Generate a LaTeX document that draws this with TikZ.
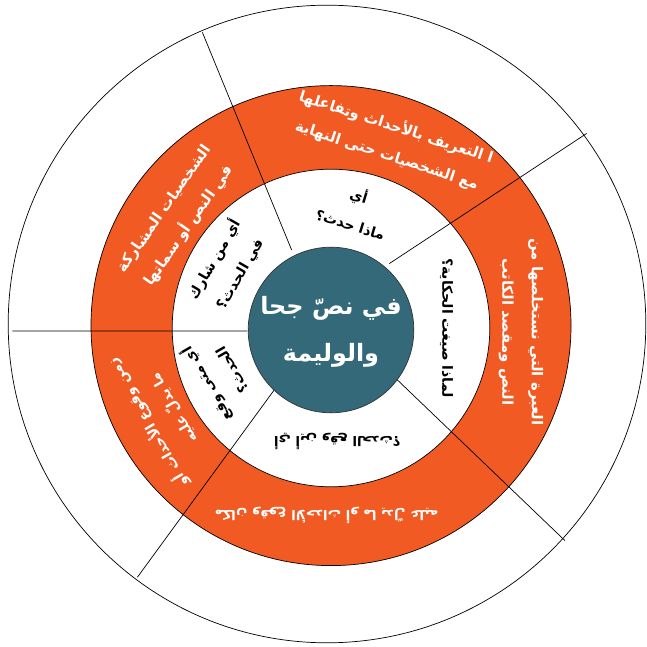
\documentclass[tikz,border=0pt]{standalone}
\usepackage{fontspec}
\usepackage{xcolor}
\newfontfamily\arabicfont[Script=Arabic]{DejaVu Sans}
\TeXXeTstate=1
\newcommand{\artxt}[1]{\beginR #1\endR}
\definecolor{ringorange}{RGB}{241,90,34}
\definecolor{hubteal}{RGB}{51,105,121}

\begin{document}
\begin{tikzpicture}[
  spoke/.style={draw=black, line width=0.5pt},
  qlabel/.style={font=\arabicfont\bfseries\fontsize{10}{21}\selectfont, align=center, inner sep=0pt},
  alabel/.style={font=\arabicfont\bfseries\fontsize{10.6}{21}\selectfont, align=center, inner sep=0pt, text=white},
  hublabel/.style={font=\arabicfont\bfseries\fontsize{17}{33}\selectfont, align=center, inner sep=0pt, text=white}
]
\useasboundingbox (-8.275,-8.075) rectangle (7.9,8.1);
\fill[white] (-8.275,-8.075) rectangle (7.9,8.1);

% rings
\draw[line width=0.5pt] (-0.1,0) circle (7.97); %outer
\filldraw[fill=ringorange, line width=0.5pt] (0,-0.04) circle (6.0); %orange ring
\filldraw[fill=white, line width=0.5pt] (0,-0.1) circle (3.97); %inner white

% dividing lines
\foreach \a/\b in {181.25/184.8, 113.8/118, 36.7/46, -42.8/-40, 232.6/229.1}
  \draw[spoke] (\a:7.97) -- (\b:2.1);

% hub
\filldraw[fill=hubteal, draw=black!80, line width=0.5pt] (0,-0.15) circle (2.07);
\node[hublabel] (hub) at (0,-0.2) {\artxt{في نصّ جحا}\\\artxt{والوليمة}};

% inner ring: questions
\node[qlabel, rotate=-17] (what) at (0.6,2.87) {\artxt{أي}\\\artxt{ماذا حدث؟}};
\node[qlabel, rotate=60] (who) at (-2.61,1.44) {\artxt{أي من شارك}\\\artxt{في الحدث؟}};
\node[qlabel, rotate=120] (when) at (-2.83,-1.35) {\artxt{أي متى وقع}\\\artxt{الحدث؟}};
\node[qlabel, font=\arabicfont\bfseries\fontsize{9.5}{21}\selectfont, rotate=180] (where) at (0.16,-2.94) {\artxt{أي أين وقع الحدث؟}};
\node[qlabel, rotate=-90] (why) at (2.89,-0.1) {\artxt{لماذا صيغت الحكاية؟}};

% orange ring: answers
\node[alabel, rotate=-18] (events) at (1.52,4.58) {\artxt{ا التعريف بالأحداث وتفاعلها}\\\artxt{مع الشخصيات حتى النهاية}};
\node[alabel, rotate=55] (people) at (-3.85,2.66) {\artxt{الشخصيات المشاركة}\\\artxt{في النص أو سماتها}};
\node[alabel, font=\arabicfont\bfseries\fontsize{10}{21}\selectfont, rotate=120] (time) at (-4.28,-2.3) {\artxt{زمن وقوع الأحداث أو}\\\artxt{ما يدلّ عليه}};
\node[alabel, font=\arabicfont\bfseries\fontsize{9.5}{21}\selectfont, rotate=180] (place) at (-0.11,-4.78) {\artxt{مكان وقوع الأحداث أو ما يدلّ عليه}};
\node[alabel, rotate=-90] (moral) at (4.75,-0.2) {\artxt{العبرة التي نستخلصها من}\\\artxt{النص ومقصد الكاتب}};
\end{tikzpicture}
\end{document}
